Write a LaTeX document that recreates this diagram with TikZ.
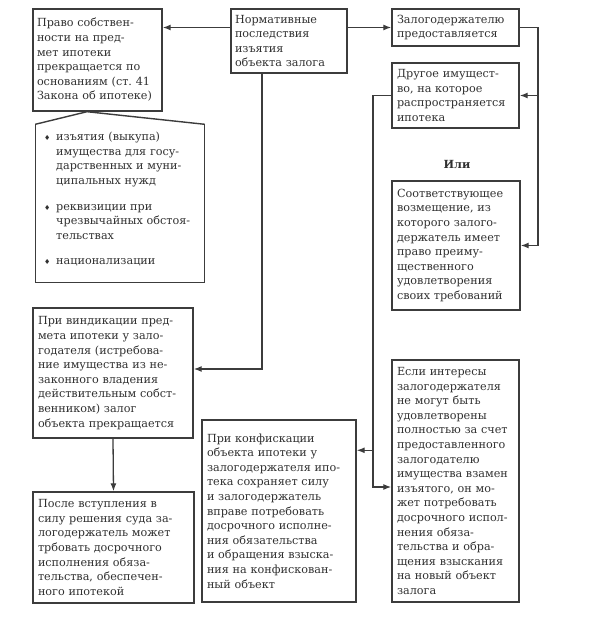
\documentclass[tikz,border=0pt]{standalone}
\usepackage{fontspec}
\setmainfont{DejaVu Serif}
\newfontfamily\symf{DejaVu Sans}
\usetikzlibrary{arrows.meta,calc}
\definecolor{ink}{HTML}{303030}
\definecolor{frame}{HTML}{3C3C3C}
\begin{document}
\begin{tikzpicture}[x=1pt,y=-1pt,
  box/.style={draw=frame, line width=1.4pt, inner sep=0pt, align=left, text=ink,
    font=\fontsize{11.2}{14.6}\selectfont},
  sz/.style n args={3}{minimum width=#1pt, minimum height=#2pt, text width=#3pt},
  conn/.style={draw=frame, line width=1.3pt},
  arr/.style={conn, -{Latex[length=8pt,width=6pt]}}
]
\useasboundingbox (0,0) rectangle (594,631);

\node[box, sz={129}{102}{121}] (A) at (97.5,60) {Право собствен-\\ности на пред-\\мет ипотеки\\прекращается по\\основаниям (ст.~41\\Закона об ипотеке)};
\node[box, sz={116}{64}{108}] (B) at (289,41) {Нормативные\\последствия\\изъятия\\объекта залога};
\node[box, sz={127}{37}{117}] (C) at (455.5,27.5) {Залогодержателю\\предоставляется};
\node[box, sz={127}{65}{117}] (D) at (455.5,95.5) {Другое имущест-\\во, на которое\\распространяется\\ипотека};
\node[text=ink, font=\fontsize{11.2}{14}\selectfont\bfseries] (or) at (457,164) {Или};
\node[box, sz={128}{129}{118}] (E) at (456,245.5) {Соответствующее\\возмещение, из\\которого залого-\\держатель имеет\\право преиму-\\щественного\\удовлетворения\\своих требований};

\node[box, draw=none, sz={168}{157}{156}] (J) at (120,203.5) {};
\draw[conn, line width=1.4pt] (J.north west) -- (J.south west) -- (J.south east) -- (J.north east);
\coordinate (apex) at ($(A.south)+(-10.5,0)$);
\draw[conn, line width=1.4pt] (J.north west) -- (apex) -- (J.north east);
\node[anchor=north west, inner sep=0pt, align=left, text=ink, text width=158pt,
  font=\fontsize{11.2}{14.6}\selectfont] (Jt) at (44,132)
 {\makebox[12pt][l]{\symf\scriptsize ♦}изъятия (выкупа)\\
  \hspace*{12pt}имущества для госу-\\
  \hspace*{12pt}дарственных и муни-\\
  \hspace*{12pt}ципальных нужд\\[11pt]
  \makebox[12pt][l]{\symf\scriptsize ♦}реквизиции при\\
  \hspace*{12pt}чрезвычайных обстоя-\\
  \hspace*{12pt}тельствах\\[11pt]
  \makebox[12pt][l]{\symf\scriptsize ♦}национализации};

\node[box, sz={160}{130}{150}] (H) at (113,373) {При виндикации пред-\\мета ипотеки у зало-\\годателя (истребова-\\ние имущества из не-\\законного владения\\действительным собст-\\венником) залог\\объекта прекращается};
\node[box, sz={161}{111}{151}] (I) at (113.5,547.5) {После вступления в\\силу решения суда за-\\логодержатель может\\трбовать досрочного\\исполнения обяза-\\тельства, обеспечен-\\ного ипотекой};
\node[box, sz={154}{182}{144}] (G) at (279,511) {При конфискации\\объекта ипотеки у\\залогодержателя ипо-\\тека сохраняет силу\\и залогодержатель\\вправе потребовать\\досрочного исполне-\\ния обязательства\\и обращения взыска-\\ния на конфискован-\\ный объект};
\node[box, sz={127}{242}{117}] (F) at (455.5,481) {Если интересы\\залогодержателя\\не могут быть\\удовлетворены\\полностью за счет\\предоставленного\\залогодателю\\имущества взамен\\изъятого, он мо-\\жет потребовать\\досрочного испол-\\нения обяза-\\тельства и обра-\\щения взыскания\\на новый объект\\залога};

% connectors
\draw[arr] (B.west |- C.west) -- (A.east |- C.west);
\draw[arr] (B.east |- C.west) -- (C.west);
\coordinate (R) at (538,0);
\draw[arr] (C.east) -| (R |- E.east) -- (E.east);
\draw[arr] (R |- D.east) -- (D.east);
\coordinate (Lx) at (373,0);
\coordinate (Fin) at ($(F.west)+(0,6)$);
\coordinate (Gin) at ($(G.north east)+(0,31)$);
\draw[arr] (D.west) -| (Lx |- Fin) -- (Fin);
\draw[arr] (Lx |- Gin) -- (Gin);
\coordinate (Bx) at (262,0);
\coordinate (Hin) at ($(H.east)+(0,-4)$);
\draw[arr] (Bx |- B.south) |- (Hin);
\draw[arr] (H.south) -- (I.north);
\end{tikzpicture}
\end{document}
